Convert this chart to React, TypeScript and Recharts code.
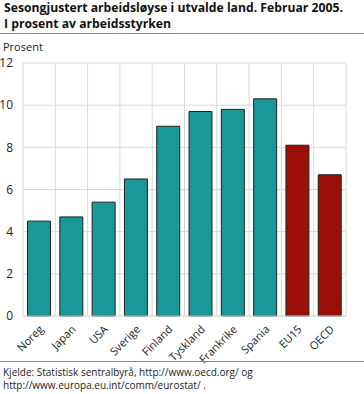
import { BarChart, Bar, XAxis, YAxis, CartesianGrid, Cell } from "recharts";

const countries = ["Noreg", "Japan", "USA", "Sverige", "Finland", "Tyskland", "Frankrike", "Spania", "EU15", "OECD"];
const unemployment = [4.5, 4.7, 5.4, 6.5, 9.0, 9.7, 9.8, 10.3, 8.1, 6.7];
const aggregates = ["EU15", "OECD"];
const yTicks = [0, 2, 4, 6, 8, 10, 12];

const TEAL = "#1a9797";
const RED = "#9a0f0a";
const FONT = "'Open Sans', 'DejaVu Sans', sans-serif";

const data = countries.map((name, i) => ({ name, value: unemployment[i] }));

const RotatedTick = ({ x, y, payload }: any) => (
  <text
    x={x + 5}
    y={y + 6}
    transform={`rotate(-45, ${x + 5}, ${y + 6})`}
    textAnchor="end"
    fontSize={11}
    fill="#222"
    fontFamily={FONT}
  >
    {payload.value}
  </text>
);

const titleStyle = {
  position: "absolute" as const,
  left: 4,
  fontSize: 12.2,
  fontWeight: 700,
  lineHeight: "16px",
  color: "#111",
  whiteSpace: "nowrap" as const,
};

export default function App() {
  return (
    <div style={{ position: "absolute", left: 0, top: 0, width: 364, height: 394, background: "#fff", fontFamily: FONT }}>
      <div style={{ ...titleStyle, top: 0 }}>Sesongjustert arbeidsløyse i utvalde land. Februar 2005.</div>
      <div style={{ ...titleStyle, top: 16 }}>I prosent av arbeidsstyrken</div>
      <div style={{ position: "absolute", left: 0, top: 33, width: 364, borderTop: "1px solid #888" }} />
      <div style={{ position: "absolute", left: 3, top: 39, fontSize: 11, color: "#222" }}>Prosent</div>
      <div style={{ position: "absolute", left: 0, top: 0 }}>
        <BarChart width={364} height={394} data={data} margin={{ top: 63, right: 18, left: 0, bottom: 0 }} barCategoryGap="14%">
          <CartesianGrid
            stroke="#d9d9d9"
            verticalCoordinatesGenerator={({ offset }: any) =>
              countries.map((_, i) => offset.left + ((i + 1) * offset.width) / countries.length)
            }
          />
          <XAxis dataKey="name" interval={0} height={78} tickLine={false} axisLine={{ stroke: "#d9d9d9" }} tick={<RotatedTick />} />
          <YAxis
            width={23}
            domain={[0, 12]}
            ticks={yTicks}
            tickLine={false}
            axisLine={{ stroke: "#d9d9d9" }}
            tick={{ fontSize: 12, fill: "#222", fontFamily: FONT }}
            tickMargin={4}
          />
          <Bar dataKey="value" stroke="#222" strokeWidth={1} isAnimationActive={false}>
            {data.map((d) => (
              <Cell key={d.name} fill={aggregates.includes(d.name) ? RED : TEAL} />
            ))}
          </Bar>
        </BarChart>
      </div>
      <div style={{ position: "absolute", left: 0, top: 361, width: 364, borderTop: "1px solid #888" }} />
      <div style={{ position: "absolute", left: 3, top: 366, fontSize: 10, lineHeight: "13px", color: "#222" }}>
        Kjelde: Statistisk sentralbyrå, http://www.oecd.org/ og
        <br />
        http://www.europa.eu.int/comm/eurostat/ .
      </div>
    </div>
  );
}
